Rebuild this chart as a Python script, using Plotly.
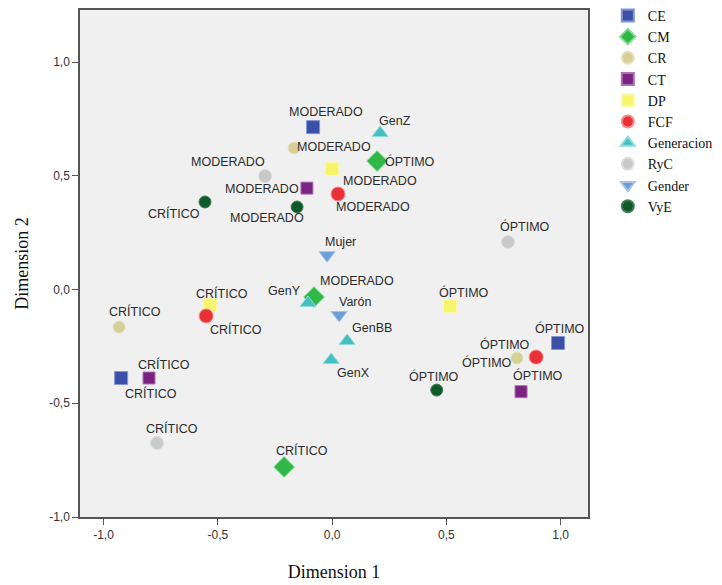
import plotly.graph_objects as go

# ---- data ----
series = ["CE", "CM", "CR", "CT", "DP", "FCF", "Generacion", "RyC", "Gender", "VyE"]

CE_labels = ["MODERADO", "CRÍTICO", "ÓPTIMO"]
CE_x = [-0.083, -0.923, 0.989]
CE_y = [0.714, -0.389, -0.235]

CM_labels = ["ÓPTIMO", "MODERADO", "CRÍTICO"]
CM_x = [0.197, -0.079, -0.210]
CM_y = [0.565, -0.033, -0.780]

CR_labels = ["MODERADO", "CRÍTICO", "ÓPTIMO"]
CR_x = [-0.166, -0.932, 0.809]
CR_y = [0.622, -0.165, -0.301]

CT_labels = ["MODERADO", "CRÍTICO", "ÓPTIMO"]
CT_x = [-0.110, -0.801, 0.827]
CT_y = [0.446, -0.389, -0.449]

DP_labels = ["MODERADO", "CRÍTICO", "ÓPTIMO"]
DP_x = [0.000, -0.534, 0.516]
DP_y = [0.530, -0.068, -0.073]

FCF_labels = ["MODERADO", "CRÍTICO", "ÓPTIMO"]
FCF_x = [0.026, -0.551, 0.893]
FCF_y = [0.420, -0.116, -0.297]

Gen_labels = ["GenZ", "GenY", "GenBB", "GenX"]
Gen_x = [0.210, -0.105, 0.066, -0.004]
Gen_y = [0.688, -0.059, -0.226, -0.310]

RyC_labels = ["MODERADO", "CRÍTICO", "ÓPTIMO"]
RyC_x = [-0.293, -0.766, 0.770]
RyC_y = [0.499, -0.675, 0.209]

Gender_labels = ["Mujer", "Varón"]
Gender_x = [-0.022, 0.031]
Gender_y = [0.151, -0.112]

VyE_labels = ["CRÍTICO", "MODERADO", "ÓPTIMO"]
VyE_x = [-0.556, -0.153, 0.458]
VyE_y = [0.385, 0.363, -0.442]

tick_vals = [-1.0, -0.5, 0.0, 0.5, 1.0]
tick_text = ["-1,0", "-0,5", "0,0", "0,5", "1,0"]

# ---- styles ----
data = {
    "CE": (CE_x, CE_y, CE_labels),
    "CM": (CM_x, CM_y, CM_labels),
    "CR": (CR_x, CR_y, CR_labels),
    "CT": (CT_x, CT_y, CT_labels),
    "DP": (DP_x, DP_y, DP_labels),
    "FCF": (FCF_x, FCF_y, FCF_labels),
    "Generacion": (Gen_x, Gen_y, Gen_labels),
    "RyC": (RyC_x, RyC_y, RyC_labels),
    "Gender": (Gender_x, Gender_y, Gender_labels),
    "VyE": (VyE_x, VyE_y, VyE_labels),
}
style = {
    "CE": dict(symbol="square", color="#3b50a6", line="#8494d2", size=13),
    "CM": dict(symbol="diamond", color="#2fb845", line="#86dd92", size=16),
    "CR": dict(symbol="circle", color="#d6cf98", line="#e6e0b8", size=12),
    "CT": dict(symbol="square", color="#7a2383", line="#ad70b3", size=12),
    "DP": dict(symbol="square", color="#f7f56c", line="#fbf9a6", size=13),
    "FCF": dict(symbol="circle", color="#ea2f38", line="#f58a8f", size=14),
    "Generacion": dict(symbol="triangle-up", color="#44bfc2", line="#8ddbdd", size=14),
    "RyC": dict(symbol="circle", color="#c9c9c9", line="#dedede", size=13),
    "Gender": dict(symbol="triangle-down", color="#6b9fd6", line="#a6c5e9", size=14),
    "VyE": dict(symbol="circle", color="#0e5a2b", line="#3f7d55", size=12),
}
# label offsets in pixels (dx right, dy up) relative to each point
label_shift = {
    "CE": [(13, 15), (30, -15), (2, 15)],
    "CM": [(33, 0), (43, 16), (18, 16)],
    "CR": [(40, 1), (16, 16), (-30, -4)],
    "CT": [(-45, -1), (15, 14), (17, 16)],
    "DP": [(48, -12), (12, 12), (14, 14)],
    "FCF": [(35, -13), (30, -14), (-31, 13)],
    "Generacion": [(15, 12), (-24, 12), (25, 13), (22, -13)],
    "RyC": [(-37, 14), (15, 15), (17, 16)],
    "Gender": [(13, 13), (16, 13)],
    "VyE": [(-31, -12), (-30, -11), (-3, 14)],
}
label_font = dict(family="Liberation Sans, Arial, sans-serif", size=12.5, color="#2b2b2b")

fig = go.Figure()
annotations = []
for name in series:
    xs, ys, labs = data[name]
    s = style[name]
    fig.add_trace(go.Scatter(
        x=xs, y=ys, mode="markers", name=name,
        marker=dict(symbol=s["symbol"], color=s["color"], size=s["size"],
                    line=dict(color=s["line"], width=1)),
        hovertext=labs,
    ))
    for xv, yv, lab, (dx, dy) in zip(xs, ys, labs, label_shift[name]):
        annotations.append(dict(
            x=xv, y=yv, xref="x", yref="y", text=lab, showarrow=False,
            xanchor="center", yanchor="middle", xshift=dx, yshift=dy,
            font=label_font,
        ))

axis_common = dict(
    tickvals=tick_vals, ticktext=tick_text, ticks="outside", ticklen=6,
    tickcolor="#555555", tickwidth=1,
    tickfont=dict(family="Liberation Sans, Arial, sans-serif", size=12, color="#333333"),
    showgrid=False, zeroline=False, showline=True, linecolor="#555555", linewidth=1.5,
    mirror=True,
)

fig.update_layout(
    width=714, height=577,
    margin=dict(l=72, r=134, t=2, b=68, autoexpand=False),
    paper_bgcolor="white", plot_bgcolor="#f0f0f0",
    xaxis=dict(range=[-1.103, 1.12], title=dict(text="Dimension 1", standoff=24,
               font=dict(family="Liberation Serif, Times New Roman, serif", size=18, color="#111111")),
               **axis_common),
    yaxis=dict(range=[-1.0, 1.229], title=dict(text="Dimension 2", standoff=16,
               font=dict(family="Liberation Serif, Times New Roman, serif", size=18, color="#111111")),
               **axis_common),
    legend=dict(x=1.039, y=1.02, xanchor="left", yanchor="top",
                font=dict(family="Liberation Serif, Times New Roman, serif", size=14, color="#111111"),
                tracegroupgap=0, itemsizing="constant", bgcolor="rgba(0,0,0,0)"),
    showlegend=True,
    annotations=annotations,
)

fig.write_html("out.html")
